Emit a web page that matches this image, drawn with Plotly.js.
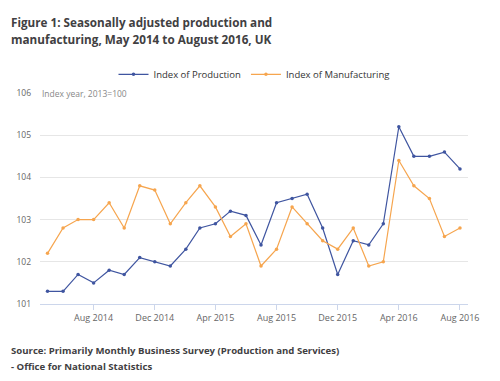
<!DOCTYPE html>
<html>
<head>
<meta charset="utf-8">
<script src="https://cdn.plot.ly/plotly-3.0.1.min.js"></script>
<style>
html,body{margin:0;padding:0;background:#fff;}
#chart{width:500px;height:381px;}
</style>
</head>
<body>
<div id="chart"></div>
<script>
var months = ["2014-05-01","2014-06-01","2014-07-01","2014-08-01","2014-09-01","2014-10-01","2014-11-01","2014-12-01",
"2015-01-01","2015-02-01","2015-03-01","2015-04-01","2015-05-01","2015-06-01","2015-07-01","2015-08-01","2015-09-01","2015-10-01","2015-11-01","2015-12-01",
"2016-01-01","2016-02-01","2016-03-01","2016-04-01","2016-05-01","2016-06-01","2016-07-01","2016-08-01"];
var production = [101.3,101.3,101.7,101.5,101.8,101.7,102.1,102.0,101.9,102.3,102.8,102.9,103.2,103.1,102.4,103.4,103.5,103.6,102.8,101.7,102.5,102.4,102.9,105.2,104.5,104.5,104.6,104.2];
var manufacturing = [102.2,102.8,103.0,103.0,103.4,102.8,103.8,103.7,102.9,103.4,103.8,103.3,102.6,102.9,101.9,102.3,103.3,102.9,102.5,102.3,102.8,101.9,102.0,104.4,103.8,103.5,102.6,102.8];
var tickDates = ["2014-08-01","2014-12-01","2015-04-01","2015-08-01","2015-12-01","2016-04-01","2016-08-01"];
var tickLabels = ["Aug 2014","Dec 2014","Apr 2015","Aug 2015","Dec 2015","Apr 2016","Aug 2016"];
var yTicks = [101,102,103,104,105,106];

var traces = [
  {x: months, y: production, name: "Index of Production", type: "scatter", mode: "lines+markers",
   line: {color: "#3f55a0", width: 1.2}, marker: {color: "#3f55a0", size: 3.5}},
  {x: months, y: manufacturing, name: "Index of Manufacturing", type: "scatter", mode: "lines+markers",
   line: {color: "#f6a54e", width: 1.2}, marker: {color: "#f6a54e", size: 3.5}}
];
var tfont = {size: 11.7, color: "#414042", family: "Open Sans, sans-serif"};
var sfont = {size: 9.6, color: "#414042", family: "Open Sans, sans-serif"};
var layout = {
  width: 500, height: 381,
  margin: {l: 40, r: 32, t: 93, b: 77},
  paper_bgcolor: "#fff", plot_bgcolor: "#fff",
  font: {family: "Open Sans, sans-serif", color: "#666", size: 9},
  showlegend: true,
  legend: {orientation: "h", x: 0.5, xanchor: "center", y: 1.02, yanchor: "bottom",
    yref: "paper", font: {size: 9.5, color: "#333"}, itemwidth: 20, tracegroupgap: 0},
  xaxis: {type: "date", range: ["2014-04-16", "2016-08-17"], tickvals: tickDates, ticktext: tickLabels,
    showgrid: false, zeroline: false, showline: true, linecolor: "#ccd6eb", linewidth: 1,
    ticks: "outside", ticklen: 5, tickcolor: "#ccd6eb", tickfont: {size: 9, color: "#666"}, fixedrange: true},
  yaxis: {range: [101, 106], tickvals: yTicks, showgrid: true, gridcolor: "#e6e6e6", zeroline: false,
    showline: false, ticks: "", tickfont: {size: 8.5, color: "#666"}, ticklabelstandoff: 8, fixedrange: true},
  annotations: [
    {text: "<b>Figure 1: Seasonally adjusted production and</b>",
     xref: "paper", yref: "paper", x: 0, xshift: -31, y: 1, yshift: 71, xanchor: "left", yanchor: "middle", align: "left",
     showarrow: false, font: tfont},
    {text: "<b>manufacturing, May 2014 to August 2016, UK</b>",
     xref: "paper", yref: "paper", x: 0, xshift: -31, y: 1, yshift: 54, xanchor: "left", yanchor: "middle", align: "left",
     showarrow: false, font: tfont},
    {text: "Index year, 2013=100", xref: "paper", yref: "paper", x: 0, y: 1, xanchor: "left", yanchor: "middle",
     showarrow: false, font: {size: 8.5, color: "#888"}},
    {text: "<b>Source: Primarily Monthly Business Survey (Production and Services)</b>",
     xref: "paper", yref: "paper", x: 0, xshift: -31, y: 0, yshift: -46, xanchor: "left", yanchor: "middle", align: "left",
     showarrow: false, font: sfont},
    {text: "<b>- Office for National Statistics</b>",
     xref: "paper", yref: "paper", x: 0, xshift: -31, y: 0, yshift: -62, xanchor: "left", yanchor: "middle", align: "left",
     showarrow: false, font: sfont}
  ]
};
Plotly.newPlot("chart", traces, layout, {displayModeBar: false, staticPlot: true});
</script>
</body>
</html>
